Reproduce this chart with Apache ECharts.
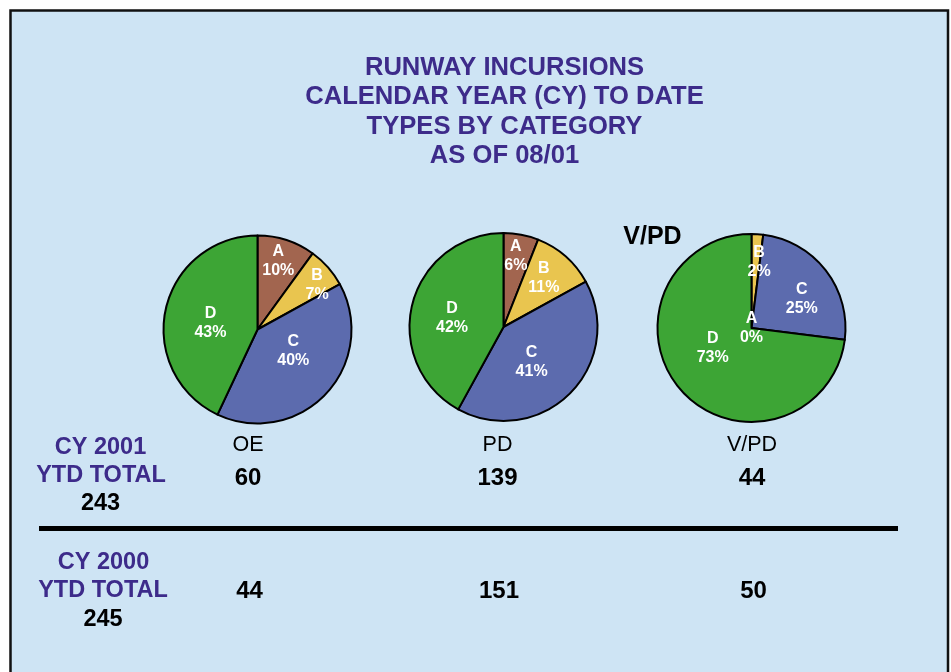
<!DOCTYPE html>
<html>
<head>
<meta charset="utf-8">
<script src="https://cdn.jsdelivr.net/npm/echarts@6/dist/echarts.min.js"></script>
<style>
html,body{margin:0;padding:0;background:#fff;}
#chart{width:951px;height:672px;}
</style>
</head>
<body>
<div id="chart"></div>
<script>
// ---------- data ----------
const titleLines = ['RUNWAY INCURSIONS', 'CALENDAR YEAR (CY) TO DATE', 'TYPES BY CATEGORY', 'AS OF 08/01'];
const categories = ['A', 'B', 'C', 'D'];
const groups = ['OE', 'PD', 'V/PD'];
const oePct = [10, 7, 40, 43];
const pdPct = [6, 11, 41, 42];
const vpdPct = [0, 2, 25, 73];
const total2001 = [60, 139, 44];
const total2000 = [44, 151, 50];
const ytdLabel2001 = ['CY 2001', 'YTD TOTAL'];
const ytdLabel2000 = ['CY 2000', 'YTD TOTAL'];
const ytdTotal2001 = 243;
const ytdTotal2000 = 245;
const pieHeading = 'V/PD';

// ---------- layout / style ----------
const FONT = "'Liberation Sans', Arial, Helvetica, sans-serif";
const PURPLE = '#3d2b8a';
const sliceColors = ['#a2654f', '#e9c54f', '#5c6bae', '#3da535'];
const pieCenters = [[257.5, 329.5], [503.5, 327], [751.5, 328]];
const pieR = 94;
// label placement: radial factor of radius and angular nudge (deg)
const labelFactor = [[0.75, 0.78, 0.44, 0.5], [0.76, 0.67, 0.47, 0.55], [0, 0.7, 0.61, 0.46]];
const labelNudge = [[-1, 5, -12, -5], [-1, -2, 6, -4.5], [0, 3, 8, 14]];
const colX = [248, 497.5, 752];

const pctSets = [oePct, pdPct, vpdPct];

const chart = echarts.init(document.getElementById('chart'), null, {renderer: 'canvas'});

const series = pctSets.map((vals, si) => ({
  type: 'pie',
  name: groups[si],
  center: pieCenters[si],
  radius: [0, pieR],
  startAngle: 90,
  clockwise: true,
  silent: true,
  animation: false,
  avoidLabelOverlap: false,
  itemStyle: {borderColor: '#000', borderWidth: 2},
  label: {
    show: true,
    position: 'inside',
    formatter: '{b}\n{c}%',
    color: '#fff',
    fontFamily: FONT,
    fontWeight: 'bold',
    fontSize: 16,
    lineHeight: 19
  },
  labelLine: {show: false},
  emphasis: {disabled: true},
  labelLayout: function (p) {
    const c = pieCenters[si];
    const r = p.labelRect;
    const lx = r.x + r.width / 2, ly = r.y + r.height / 2;
    const ang = Math.atan2(lx - c[0], -(ly - c[1])) + labelNudge[si][p.dataIndex] * Math.PI / 180;
    const d = labelFactor[si][p.dataIndex] * (pieR + 1);
    const nx = c[0] + d * Math.sin(ang), ny = c[1] - d * Math.cos(ang);
    return {dx: nx - lx, dy: ny - ly};
  },
  data: categories.map((n, i) => ({name: n, value: vals[i], itemStyle: {color: sliceColors[i]}}))
}));

function txt(text, x, y, size, weight, color) {
  return {
    type: 'text', silent: true, z: 10,
    style: {text: String(text), x: x, y: y, align: 'center', verticalAlign: 'middle',
      fontFamily: FONT, fontSize: size, fontWeight: weight, fill: color}
  };
}

const graphics = [
  {type: 'rect', z: -10, silent: true, shape: {x: 10.5, y: 10.5, width: 937.5, height: 700},
    style: {fill: '#cee4f4', stroke: '#111', lineWidth: 2.5}},
  {type: 'line', z: 5, silent: true, shape: {x1: 39, y1: 528.5, x2: 898, y2: 528.5},
    style: {stroke: '#000', lineWidth: 5}}
];
titleLines.forEach((t, i) => graphics.push(txt(t, 504.5, 68 + i * 29.3, 25.6, 'bold', PURPLE)));
graphics.push(txt(pieHeading, 652.5, 237, 25, 'bold', '#000'));
groups.forEach((g, i) => {
  graphics.push(txt(g, colX[i], 445.5, 21.5, 'normal', '#000'));
  graphics.push(txt(total2001[i], colX[i], 478, 24, 'bold', '#000'));
  graphics.push(txt(total2000[i], colX[i] + 1.5, 591, 24, 'bold', '#000'));
});
graphics.push(txt(ytdLabel2001[0], 100.5, 447.5, 23.5, 'bold', PURPLE));
graphics.push(txt(ytdLabel2001[1], 101, 476, 23.5, 'bold', PURPLE));
graphics.push(txt(ytdTotal2001, 100.5, 503.5, 23.5, 'bold', '#000'));
graphics.push(txt(ytdLabel2000[0], 103.5, 563, 23.5, 'bold', PURPLE));
graphics.push(txt(ytdLabel2000[1], 103, 591, 23.5, 'bold', PURPLE));
graphics.push(txt(ytdTotal2000, 103, 620, 23.5, 'bold', '#000'));

chart.setOption({
  backgroundColor: '#fff',
  animation: false,
  graphic: graphics,
  series: series
});
</script>
</body>
</html>
